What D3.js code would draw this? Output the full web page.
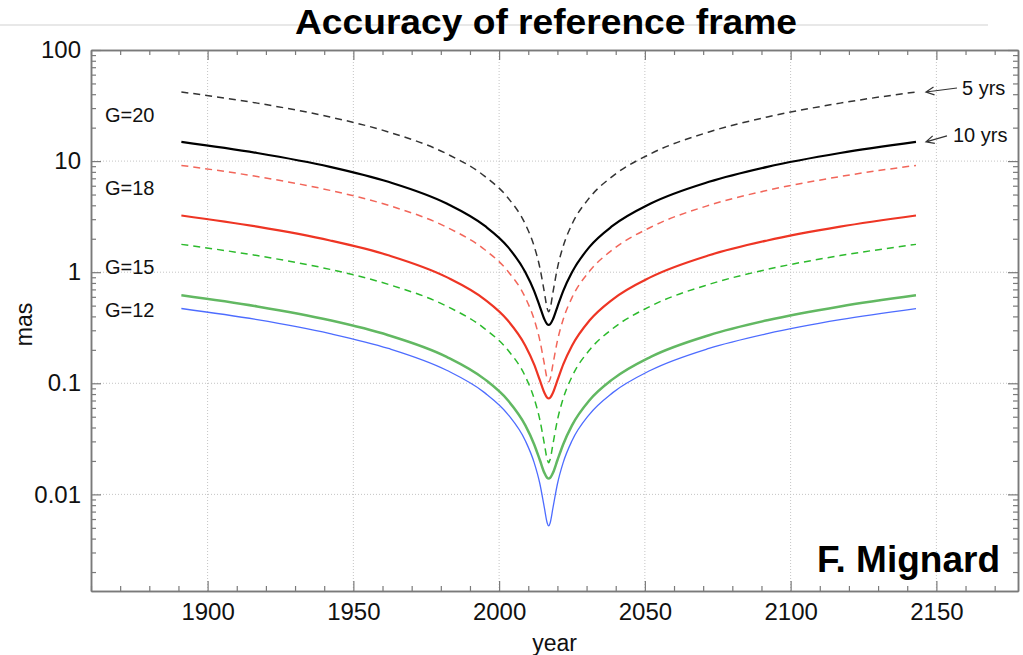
<!DOCTYPE html>
<html>
<head>
<meta charset="utf-8">
<script src="https://cdn.jsdelivr.net/npm/d3@7"></script>
<style>
  body { margin: 0; background: #fff; }
  svg { display: block; font-family: "Liberation Sans", Arial, Helvetica, sans-serif; }
</style>
</head>
<body>
<div id="chart"></div>
<script>
// Accuracy of reference frame - mas vs year, log y
const years = [1891, 1917, 1942, 1962, 1982, 1995, 2003, 2009, 2012, 2014, 2015.5, 2016.5, 2017,
    2017.5, 2018.5, 2020, 2022, 2025, 2031, 2039, 2052, 2072, 2092, 2117, 2143];

const g20_5yr = [41.9, 33.25, 24.94, 18.29, 11.65, 7.33, 4.68, 2.70, 1.72, 1.09, 0.665, 0.470, 0.44,
    0.470, 0.665, 1.09, 1.72, 2.70, 4.68, 7.33, 11.65, 18.29, 24.94, 33.25, 41.9];
const g20_10yr = [14.9, 11.83, 8.88, 6.51, 4.15, 2.62, 1.69, 1.00, 0.680, 0.488, 0.379, 0.340, 0.335,
    0.340, 0.379, 0.488, 0.680, 1.00, 1.69, 2.62, 4.15, 6.51, 8.88, 11.83, 14.9];
const g18_5yr = [9.15, 7.26, 5.45, 4.00, 2.54, 1.60, 1.02, 0.590, 0.377, 0.241, 0.150, 0.109, 0.103,
    0.109, 0.150, 0.241, 0.377, 0.590, 1.02, 1.60, 2.54, 4.00, 5.45, 7.26, 9.15];
const g18_10yr = [3.24, 2.57, 1.93, 1.42, 0.903, 0.570, 0.367, 0.218, 0.148, 0.106, 0.0826, 0.0741, 0.073,
    0.0741, 0.0826, 0.106, 0.148, 0.218, 0.367, 0.570, 0.903, 1.42, 1.93, 2.57, 3.24];
const g15_5yr = [1.78, 1.41, 1.06, 0.777, 0.495, 0.311, 0.199, 0.115, 0.0732, 0.0466, 0.0287, 0.0206, 0.0193,
    0.0206, 0.0287, 0.0466, 0.0732, 0.115, 0.199, 0.311, 0.495, 0.777, 1.06, 1.41, 1.78];
const g15_10yr = [0.62, 0.492, 0.369, 0.271, 0.173, 0.109, 0.0703, 0.0418, 0.0283, 0.0203, 0.0157, 0.0141, 0.0139,
    0.0141, 0.0157, 0.0203, 0.0283, 0.0418, 0.0703, 0.109, 0.173, 0.271, 0.369, 0.492, 0.62];
const g12_10yr = [0.471, 0.374, 0.280, 0.206, 0.131, 0.0824, 0.0526, 0.0304, 0.0194, 0.0124, 0.00765, 0.00553, 0.0052,
    0.00553, 0.00765, 0.0124, 0.0194, 0.0304, 0.0526, 0.0824, 0.131, 0.206, 0.280, 0.374, 0.471];

const xTicks = [1900, 1950, 2000, 2050, 2100, 2150];
const yTicks = [100, 10, 1, 0.1, 0.01];
const gLabels = ["G=20", "G=18", "G=15", "G=12"];

const series = [
    { values: g20_5yr, color: "#333", width: 1.5, dash: "7,5" },
    { values: g20_10yr, color: "#000", width: 2.2, dash: null },
    { values: g18_5yr, color: "#f2665a", width: 1.5, dash: "7,5" },
    { values: g18_10yr, color: "#ee3524", width: 2.2, dash: null },
    { values: g15_5yr, color: "#2cba2c", width: 1.5, dash: "7,5" },
    { values: g15_10yr, color: "#62b862", width: 2.5, dash: null },
    { values: g12_10yr, color: "#4d6cff", width: 1.3, dash: null }
];

const W = 1023, H = 655;
const mLeft = 91, mRight = 1018, mTop = 50, mBottom = 591;

const svg = d3.select("#chart").append("svg")
    .attr("width", W)
    .attr("height", H);

// faint slide line behind the title
svg.append("line")
    .attr("x1", 0).attr("x2", 988)
    .attr("y1", 25).attr("y2", 25)
    .style("stroke", "#e8e8e8")
    .style("stroke-width", 2);

const x = d3.scaleLinear().domain([1860, 2178]).range([mLeft, mRight]);
const y = d3.scaleLog().domain([0.00135, 100]).range([mBottom, mTop]);

const minorX = d3.range(1860, 2180, 10).filter(v => v % 50 !== 0);
const minorY = y.ticks().filter(v => Math.abs(Math.log10(v) - Math.round(Math.log10(v))) > 1e-6);

// dotted grid
svg.append("g").selectAll("line")
    .data(xTicks)
    .enter().append("line")
    .attr("x1", d => x(d)).attr("x2", d => x(d))
    .attr("y1", mTop).attr("y2", mBottom)
    .style("stroke", "#c4c4c4")
    .style("stroke-dasharray", "1,2");

svg.append("g").selectAll("line")
    .data(yTicks.slice(1))
    .enter().append("line")
    .attr("x1", mLeft).attr("x2", mRight)
    .attr("y1", d => y(d)).attr("y2", d => y(d))
    .style("stroke", "#c4c4c4")
    .style("stroke-dasharray", "1,2");

// curves
const line = d3.line()
    .x(d => x(d[0]))
    .y(d => y(d[1]))
    .curve(d3.curveMonotoneX);

series.forEach(s => {
    svg.append("path")
        .datum(years.map((yr, i) => [yr, s.values[i]]))
        .attr("d", line)
        .style("fill", "none")
        .style("stroke", s.color)
        .style("stroke-width", s.width)
        .style("stroke-dasharray", s.dash);
});

// axes (ticks pointing inward)
const axisColor = "#7a7a7a";
function styleAxis(g) {
    g.selectAll(".domain").style("stroke", axisColor).style("stroke-width", 1.5);
    g.selectAll(".tick line").style("stroke", axisColor).style("stroke-width", 1.2);
    g.attr("font-family", null);
    g.selectAll("text").style("font-size", "24px").style("fill", "#111");
}

svg.append("g")
    .attr("transform", `translate(0,${mBottom})`)
    .call(d3.axisBottom(x).tickValues(xTicks).tickSize(-10).tickSizeOuter(0).tickPadding(12).tickFormat(d3.format("d")))
    .call(styleAxis);
svg.append("g")
    .attr("transform", `translate(0,${mBottom})`)
    .call(d3.axisBottom(x).tickValues(minorX).tickSize(-5).tickSizeOuter(0).tickFormat(""))
    .call(styleAxis);
svg.append("g")
    .attr("transform", `translate(0,${mTop})`)
    .call(d3.axisTop(x).tickValues(xTicks).tickSize(-10).tickSizeOuter(0).tickFormat(""))
    .call(styleAxis);
svg.append("g")
    .attr("transform", `translate(0,${mTop})`)
    .call(d3.axisTop(x).tickValues(minorX).tickSize(-5).tickSizeOuter(0).tickFormat(""))
    .call(styleAxis);

svg.append("g")
    .attr("transform", `translate(${mLeft},0)`)
    .call(d3.axisLeft(y).tickValues(yTicks).tickSize(-10).tickSizeOuter(0).tickPadding(10).tickFormat(d3.format("~g")))
    .call(styleAxis);
svg.append("g")
    .attr("transform", `translate(${mLeft},0)`)
    .call(d3.axisLeft(y).tickValues(minorY).tickSize(-5).tickSizeOuter(0).tickFormat(""))
    .call(styleAxis);
svg.append("g")
    .attr("transform", `translate(${mRight},0)`)
    .call(d3.axisRight(y).tickValues(yTicks).tickSize(-10).tickSizeOuter(0).tickFormat(""))
    .call(styleAxis);
svg.append("g")
    .attr("transform", `translate(${mRight},0)`)
    .call(d3.axisRight(y).tickValues(minorY).tickSize(-5).tickSizeOuter(0).tickFormat(""))
    .call(styleAxis);

// titles
svg.append("text")
    .attr("x", 295).attr("y", 34)
    .attr("textLength", 502)
    .attr("lengthAdjust", "spacingAndGlyphs")
    .style("font-size", "35px")
    .style("font-weight", "bold")
    .style("fill", "#000")
    .text("Accuracy of reference frame");

svg.append("text")
    .attr("x", (mLeft + mRight) / 2).attr("y", 651)
    .style("text-anchor", "middle")
    .style("font-size", "23px")
    .style("fill", "#111")
    .text("year");

svg.append("text")
    .attr("transform", `translate(32,${(mTop + mBottom) / 2 + 4}) rotate(-90)`)
    .style("text-anchor", "middle")
    .style("font-size", "23px")
    .style("fill", "#111")
    .text("mas");

// G labels
const gLabelY = [122, 195, 274, 317];
svg.append("g").selectAll("text")
    .data(gLabels)
    .enter().append("text")
    .attr("x", 105)
    .attr("y", (d, i) => gLabelY[i])
    .style("font-size", "20px")
    .style("fill", "#111")
    .text(d => d);

// mission length annotations with arrows
const lastYear = years[years.length - 1];
const notes = [
    { text: "5 yrs", value: g20_5yr[g20_5yr.length - 1], dx: 31, dy: -4, tx: 962, ty: 95 },
    { text: "10 yrs", value: g20_10yr[g20_10yr.length - 1], dx: 21, dy: -6, tx: 953, ty: 142 }
];
notes.forEach(n => {
    const tipX = x(lastYear) + 10, tipY = y(n.value);
    const len = Math.hypot(n.dx, n.dy);
    const ux = n.dx / len, uy = n.dy / len;
    const a = 0.45, b = 9;
    const b1 = [tipX + b * (ux * Math.cos(a) - uy * Math.sin(a)), tipY + b * (ux * Math.sin(a) + uy * Math.cos(a))];
    const b2 = [tipX + b * (ux * Math.cos(-a) - uy * Math.sin(-a)), tipY + b * (ux * Math.sin(-a) + uy * Math.cos(-a))];
    svg.append("path")
        .attr("d", `M${tipX + n.dx},${tipY + n.dy}L${tipX},${tipY}M${b1[0]},${b1[1]}L${tipX},${tipY}L${b2[0]},${b2[1]}`)
        .style("fill", "none")
        .style("stroke", "#333")
        .style("stroke-width", 1.2);
    svg.append("text")
        .attr("x", n.tx).attr("y", n.ty)
        .style("font-size", "20px")
        .style("fill", "#111")
        .text(n.text);
});

svg.append("text")
    .attr("x", 817).attr("y", 572)
    .attr("textLength", 183)
    .attr("lengthAdjust", "spacingAndGlyphs")
    .style("font-size", "37px")
    .style("font-weight", "bold")
    .style("fill", "#000")
    .text("F. Mignard");
</script>
</body>
</html>
